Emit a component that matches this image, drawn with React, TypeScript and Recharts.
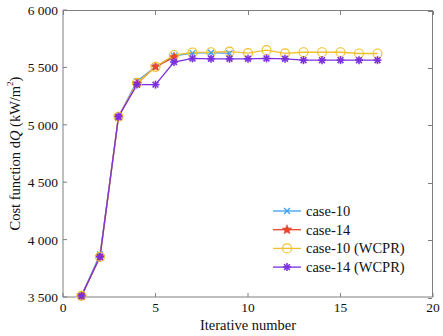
import { Line, LineChart, XAxis, YAxis, Label } from "recharts";

const iterations = [1, 2, 3, 4, 5, 6, 7, 8, 9, 10, 11, 12, 13, 14, 15, 16, 17];
const case10 = [3510, 3870, 5070, 5380, 5505, 5600, 5625, 5628, 5622];
const case14 = [3510, 3850, 5070, 5360, 5505, 5590];
const case10Wcpr = [3510, 3850, 5070, 5365, 5505, 5608, 5630, 5632, 5638, 5625, 5650, 5623, 5632, 5632, 5632, 5621, 5621];
const case14Wcpr = [3510, 3850, 5070, 5350, 5350, 5547, 5578, 5575, 5575, 5575, 5578, 5575, 5563, 5563, 5563, 5563, 5563];
const xTicks = [0, 5, 10, 15, 20];
const yTicks = [3500, 4000, 4500, 5000, 5500, 6000];
const xDomain = [0, 20];
const yDomain = [3500, 6000];

const rows = iterations.map((it, i) => ({
  it,
  c10: case10[i],
  c14: case14[i],
  c10w: case10Wcpr[i],
  c14w: case14Wcpr[i]
}));

const FONT = "Liberation Serif";
const AXIS = "#7f7f7f";
const W = 443;
const H = 336;
const M = { top: 10, right: 10, left: 63, bottom: 39 };

const COLORS: Record<string, string> = {
  c10: "#3f9ff0",
  c14: "#e8452c",
  c10w: "#f0c030",
  c14w: "#7a2fe0"
};

function Marker({ kind, cx, cy }: { kind: string; cx: number; cy: number }) {
  if (cx == null || cy == null || Number.isNaN(cy)) return null;
  if (kind === "c10") {
    const s = 3;
    return (
      <g stroke={COLORS.c10} strokeWidth={1.2}>
        <line x1={cx - s} y1={cy - s} x2={cx + s} y2={cy + s} />
        <line x1={cx - s} y1={cy + s} x2={cx + s} y2={cy - s} />
      </g>
    );
  }
  if (kind === "c14") {
    const pts: string[] = [];
    for (let k = 0; k < 10; k++) {
      const r = k % 2 === 0 ? 5 : 2.2;
      const a = -Math.PI / 2 + (k * Math.PI) / 5;
      pts.push(`${cx + r * Math.cos(a)},${cy + r * Math.sin(a)}`);
    }
    return <polygon points={pts.join(" ")} fill={COLORS.c14} stroke={COLORS.c14} strokeWidth={0.6} />;
  }
  if (kind === "c10w") {
    return <circle cx={cx} cy={cy} r={4.5} fill="none" stroke={COLORS.c10w} strokeWidth={1.2} />;
  }
  const s = 4;
  const d = 2.9;
  return (
    <g stroke={COLORS.c14w} strokeWidth={1.6}>
      <line x1={cx} y1={cy - s} x2={cx} y2={cy + s} />
      <line x1={cx - s} y1={cy} x2={cx + s} y2={cy} />
      <line x1={cx - d} y1={cy - d} x2={cx + d} y2={cy + d} />
      <line x1={cx - d} y1={cy + d} x2={cx + d} y2={cy - d} />
    </g>
  );
}

const legendItems = [
  { key: "c10", name: "case-10" },
  { key: "c14", name: "case-14" },
  { key: "c10w", name: "case-10 (WCPR)" },
  { key: "c14w", name: "case-14 (WCPR)" }
];

function LegendBox() {
  return (
    <svg width={170} height={80} style={{ position: "absolute", left: 271, top: 203, zIndex: 2 }}>
      {legendItems.map((item, i) => {
        const y = 8 + i * 18.7;
        return (
          <g key={item.key}>
            <line x1={2} x2={30} y1={y} y2={y} stroke={COLORS[item.key]} strokeWidth={1.3} />
            <Marker kind={item.key} cx={16} cy={y} />
            <text x={35} y={y + 5} style={{ fontFamily: FONT, fontSize: 14.5 }} fill="#111">
              {item.name}
            </text>
          </g>
        );
      })}
    </svg>
  );
}

// top and right sides of the box, with inward ticks
function Frame() {
  const pw = W - M.left - M.right;
  const ph = H - M.top - M.bottom;
  const fx = (v: number) => ((v - xDomain[0]) / (xDomain[1] - xDomain[0])) * pw;
  const fy = (v: number) => ph - ((v - yDomain[0]) / (yDomain[1] - yDomain[0])) * ph;
  return (
    <div
      style={{
        position: "absolute",
        left: M.left,
        top: M.top,
        width: pw,
        height: ph,
        boxSizing: "border-box",
        borderTop: `1px solid ${AXIS}`,
        borderRight: `1px solid ${AXIS}`,
        pointerEvents: "none",
        zIndex: 1
      }}
    >
      {xTicks.map((v) => (
        <div key={`t${v}`} style={{ position: "absolute", left: fx(v) - 0.5, top: 0, width: 1, height: 4, background: AXIS }} />
      ))}
      {yTicks.map((v) => (
        <div key={`r${v}`} style={{ position: "absolute", right: 0, top: fy(v) - 0.5, width: 4, height: 1, background: AXIS }} />
      ))}
    </div>
  );
}

function YTitle({ viewBox }: any) {
  const cx = 15;
  const cy = viewBox ? viewBox.y + viewBox.height / 2 : 153;
  return (
    <text
      x={cx}
      y={cy}
      transform={`rotate(-90 ${cx} ${cy})`}
      textAnchor="middle"
      dominantBaseline="central"
      style={{ fontFamily: FONT, fontSize: 14.5 }}
      fill="#111"
    >
      Cost function d<tspan fontStyle="italic">Q</tspan> (kW/m<tspan baselineShift="super" fontSize={9}>2</tspan>)
    </text>
  );
}

const fmt = (v: number) => {
  const s = String(v);
  return s.length > 3 ? `${s.slice(0, s.length - 3)} ${s.slice(-3)}` : s;
};

function XTick({ x, y, payload }: any) {
  return (
    <text x={x} y={y + 11} textAnchor="middle" style={{ fontFamily: FONT, fontSize: 13.5 }} fill="#111">
      {payload.value}
    </text>
  );
}

function YTick({ x, y, payload }: any) {
  return (
    <text x={x} y={y + 5} textAnchor="end" style={{ fontFamily: FONT, fontSize: 13.5 }} fill="#111">
      {fmt(payload.value)}
    </text>
  );
}

export default function App() {
  return (
    <div style={{ position: "absolute", left: 0, top: 0, width: W, height: H, background: "#fff", fontFamily: FONT }}>
      <LineChart width={W} height={H} data={rows} margin={{ top: M.top, right: M.right, left: 0, bottom: 0 }}>
        <XAxis
          dataKey="it"
          type="number"
          domain={xDomain}
          ticks={xTicks}
          height={M.bottom}
          stroke={AXIS}
          tickSize={-4}
          tickMargin={8}
          tick={<XTick />}
          interval={0}
        >
          <Label value="Iterative number" position="insideBottom" offset={6} style={{ fill: "#111", fontSize: 14.5, fontFamily: FONT }} />
        </XAxis>
        <YAxis
          type="number"
          domain={yDomain}
          ticks={yTicks}
          width={M.left}
          stroke={AXIS}
          tickSize={-4}
          tickMargin={9}
          tick={<YTick />}
          interval={0}
        >
          <Label content={<YTitle />} />
        </YAxis>
        {legendItems.map((item) => (
          <Line
            key={item.key}
            dataKey={item.key}
            name={item.name}
            type="linear"
            stroke={COLORS[item.key]}
            strokeWidth={1.3}
            dot={(p: any) => <Marker key={`${item.key}-${p.index}`} kind={item.key} cx={p.cx} cy={p.cy} />}
            activeDot={false}
            connectNulls={false}
            isAnimationActive={false}
          />
        ))}
      </LineChart>
      <Frame />
      <LegendBox />
    </div>
  );
}
